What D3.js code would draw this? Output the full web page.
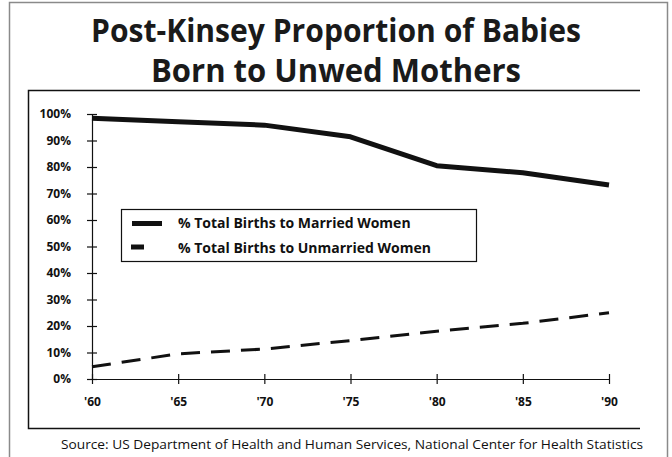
<!DOCTYPE html>
<html>
<head>
<meta charset="utf-8">
<script src="https://cdn.jsdelivr.net/npm/d3@7"></script>
<style>
  body { margin: 0; background: #fff; }
  svg { display: block; }
</style>
</head>
<body>
<div id="chart"></div>
<script>
// data
let years = [1960, 1965, 1970, 1975, 1980, 1985, 1990]
let yearLabels = ["'60", "'65", "'70", "'75", "'80", "'85", "'90"]
let married = [98.4, 97.1, 95.8, 91.4, 80.5, 77.8, 73.2]
let unmarried = [4.6, 9.5, 11.3, 14.5, 18, 21, 25]
let yTicks = [0, 10, 20, 30, 40, 50, 60, 70, 80, 90, 100]
let seriesNames = ["% Total Births to Married Women", "% Total Births to Unmarried Women"]

let width = 672, height = 457
let font = "'Open Sans', sans-serif"

let svg = d3.select("#chart").append("svg")
    .attr("width", width)
    .attr("height", height)

// outer frame (gray)
svg.append("path")
    .attr("d", "M9.5,457 V2.5 H667.5 V457")
    .attr("fill", "none")
    .attr("stroke", "#8a8a8a")
    .attr("stroke-width", 1.5)

// inner box, open on the right
svg.append("path")
    .attr("d", "M640,90.5 H28.5 V428.5 H640")
    .attr("fill", "none")
    .attr("stroke", "#111")
    .attr("stroke-width", 1.5)

// title, two lines in one text element
let titleLines = ["Post-Kinsey Proportion of Babies", "Born to Unwed Mothers"]
let titleWidths = [490, 370]
let title = svg.append("text")
    .attr("text-anchor", "middle")
    .style("font-family", font)
    .style("font-weight", 700)
    .style("font-size", "32px")
    .attr("fill", "#1a1a1a")
title.selectAll("tspan")
    .data(titleLines)
    .join("tspan")
    .attr("x", 336)
    .attr("y", (d, i) => 42 + i * 40)
    .attr("textLength", (d, i) => titleWidths[i])
    .attr("lengthAdjust", "spacingAndGlyphs")
    .text(d => d)

// scales
let x = d3.scaleLinear().domain([1960, 1990]).range([92, 609])
let y = d3.scaleLinear().domain([0, 100]).range([379, 114])

// y axis
let yAxis = svg.append("g")
    .attr("transform", "translate(92,0)")
    .call(d3.axisLeft(y).tickValues(yTicks).tickSize(0).tickFormat(d => d + "%").tickPadding(21))
yAxis.select(".domain").attr("stroke", "#111").attr("stroke-width", 1.2)
yAxis.selectAll(".tick text")
    .style("font-family", font).style("font-weight", 700).style("font-size", "12px").attr("fill", "#111")
yAxis.selectAll(".tick").append("line")
    .attr("x1", -5).attr("x2", 5).attr("stroke", "#111").attr("stroke-width", 1.2)

// x axis
let xAxis = svg.append("g")
    .attr("transform", "translate(0,379)")
    .call(d3.axisBottom(x).tickValues(years).tickSize(0).tickFormat((d, i) => yearLabels[i]).tickPadding(18))
xAxis.select(".domain").attr("stroke", "#111").attr("stroke-width", 1.2)
xAxis.selectAll(".tick text")
    .style("font-family", font).style("font-weight", 700).style("font-size", "12px").attr("fill", "#111")
xAxis.selectAll(".tick").append("line")
    .attr("y1", -5).attr("y2", 5).attr("stroke", "#111").attr("stroke-width", 1.2)

// lines
let line = d3.line()
    .x((d, i) => x(years[i]))
    .y(d => y(d))

svg.append("path")
    .datum(married)
    .attr("d", line)
    .attr("fill", "none")
    .attr("stroke", "#111")
    .attr("stroke-width", 5)
    .attr("stroke-linejoin", "round")

svg.append("path")
    .datum(unmarried)
    .attr("d", line)
    .attr("fill", "none")
    .attr("stroke", "#111")
    .attr("stroke-width", 3)
    .attr("stroke-dasharray", "19,11")

// legend
let legend = svg.append("g")
legend.append("rect")
    .attr("x", 121.5).attr("y", 209.5).attr("width", 355).attr("height", 52)
    .attr("fill", "#fff").attr("stroke", "#111").attr("stroke-width", 1.2)
legend.append("line")
    .attr("x1", 132).attr("x2", 162).attr("y1", 223.5).attr("y2", 223.5)
    .attr("stroke", "#111").attr("stroke-width", 5)
legend.append("line")
    .attr("x1", 131).attr("x2", 144).attr("y1", 247).attr("y2", 247)
    .attr("stroke", "#111").attr("stroke-width", 5)
legend.selectAll("text.lbl")
    .data(seriesNames)
    .join("text")
    .attr("class", "lbl")
    .attr("x", 178)
    .attr("y", (d, i) => 228 + i * 24.5)
    .style("font-family", font).style("font-weight", 700).style("font-size", "14px")
    .attr("fill", "#111")
    .text(d => d)

// source
svg.append("text")
    .attr("x", 352).attr("y", 449)
    .attr("text-anchor", "middle")
    .attr("textLength", 582)
    .attr("lengthAdjust", "spacingAndGlyphs")
    .style("font-family", font).style("font-size", "13px")
    .attr("fill", "#111")
    .text("Source: US Department of Health and Human Services, National Center for Health Statistics")
</script>
</body>
</html>
